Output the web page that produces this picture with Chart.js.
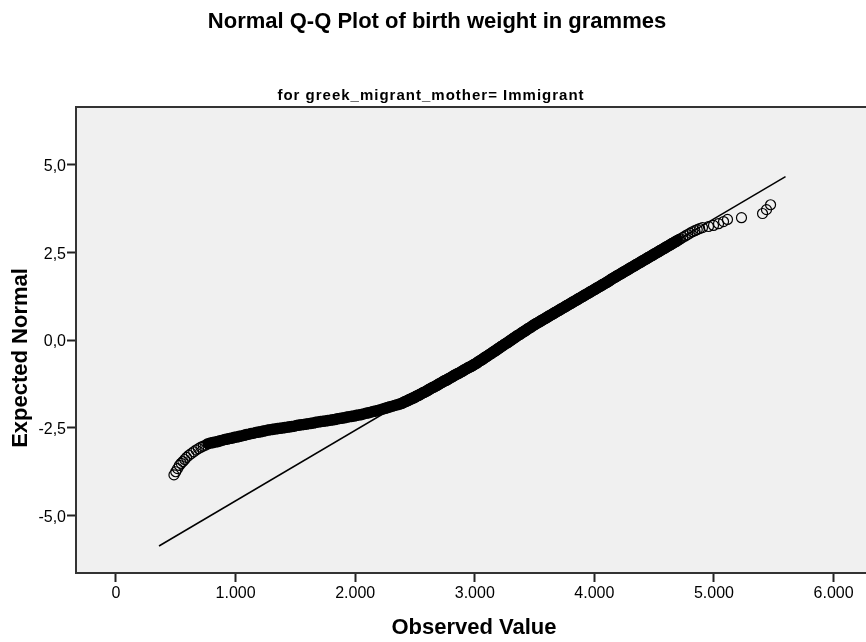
<!DOCTYPE html>
<html>
<head>
<meta charset="utf-8">
<script src="https://cdn.jsdelivr.net/npm/chart.js@4.4.1/dist/chart.umd.min.js"></script>
<style>
  html, body { margin: 0; padding: 0; background: #fff; overflow: hidden; }
  #wrap { width: 866px; height: 642px; }
</style>
</head>
<body>
<div id="wrap"><canvas id="qqPlot" width="866" height="642"></canvas></div>
<script>
// texts
const chartTitle = 'Normal Q-Q Plot of birth weight in grammes';
const chartSubtitle = 'for greek_migrant_mother= Immigrant';
const xTitle = 'Observed Value';
const yTitle = 'Expected Normal';

// axis ranges / ticks
const xMin = -334, xMax = 6271;
const yMin = -6.65, yMax = 6.65;
const xTickValues = [0, 1000, 2000, 3000, 4000, 5000, 6000];
const yTickValues = [-5, -2.5, 0, 2.5, 5];

// reference line (expected normal of the fitted normal)
const lineObserved = [360, 5598];
const lineExpected = [-5.88, 4.66];

// lower tail, separate circles
const obsTailLow = [485, 500, 515, 530, 545, 560, 575, 590, 610, 630, 650, 670, 690, 710, 730, 750];
const expTailLow = [-3.85, -3.76, -3.67, -3.58, -3.52, -3.47, -3.41, -3.35, -3.29, -3.24, -3.19, -3.14, -3.10, -3.06, -3.03, -3.00];

// lower band
const obsLow = [770, 790, 810, 830, 850, 870, 890, 910, 930, 950, 970, 990,
  1010, 1030, 1050, 1070, 1090, 1110, 1130, 1150, 1170, 1190,
  1210, 1230, 1250, 1270, 1290, 1310, 1330, 1350, 1370, 1390,
  1410, 1430, 1450, 1470, 1490, 1510, 1530, 1550, 1570, 1590,
  1610, 1630, 1650, 1670, 1690, 1710, 1730, 1750, 1770, 1790,
  1810, 1830, 1850, 1870, 1890, 1910, 1930, 1950, 1970, 1990,
  2010, 2030, 2050, 2070, 2090, 2110, 2130, 2150, 2170, 2190,
  2210, 2230, 2250, 2270, 2290, 2310, 2330, 2350, 2370, 2390];
const expLow = [-2.96, -2.94, -2.93, -2.91, -2.90, -2.88, -2.86, -2.84, -2.83, -2.81, -2.80, -2.78,
  -2.77, -2.75, -2.74, -2.72, -2.70, -2.69, -2.67, -2.66, -2.64, -2.63,
  -2.62, -2.60, -2.59, -2.57, -2.56, -2.55, -2.54, -2.53, -2.52, -2.51,
  -2.50, -2.49, -2.48, -2.47, -2.46, -2.44, -2.43, -2.42, -2.41, -2.40,
  -2.39, -2.38, -2.37, -2.35, -2.34, -2.33, -2.32, -2.31, -2.30, -2.29,
  -2.28, -2.27, -2.25, -2.24, -2.23, -2.22, -2.20, -2.19, -2.18, -2.17,
  -2.15, -2.14, -2.13, -2.11, -2.09, -2.08, -2.06, -2.04, -2.03, -2.01,
  -1.99, -1.97, -1.95, -1.93, -1.91, -1.89, -1.87, -1.85, -1.83, -1.81];

// middle band (dense)
const obsMid = [
  2400, 2410, 2420, 2430, 2440, 2450, 2460, 2470, 2480, 2490,
  2500, 2510, 2520, 2530, 2540, 2550, 2560, 2570, 2580, 2590,
  2600, 2610, 2620, 2630, 2640, 2650, 2660, 2670, 2680, 2690,
  2700, 2710, 2720, 2730, 2740, 2750, 2760, 2770, 2780, 2790,
  2800, 2810, 2820, 2830, 2840, 2850, 2860, 2870, 2880, 2890,
  2900, 2910, 2920, 2930, 2940, 2950, 2960, 2970, 2980, 2990,
  3000, 3010, 3020, 3030, 3040, 3050, 3060, 3070, 3080, 3090,
  3100, 3110, 3120, 3130, 3140, 3150, 3160, 3170, 3180, 3190,
  3200, 3210, 3220, 3230, 3240, 3250, 3260, 3270, 3280, 3290,
  3300, 3310, 3320, 3330, 3340, 3350, 3360, 3370, 3380, 3390,
  3400, 3410, 3420, 3430, 3440, 3450, 3460, 3470, 3480, 3490,
  3500, 3510, 3520, 3530, 3540, 3550, 3560, 3570, 3580, 3590,
  3600, 3610, 3620, 3630, 3640, 3650, 3660, 3670, 3680, 3690,
  3700, 3710, 3720, 3730, 3740, 3750, 3760, 3770, 3780, 3790,
  3800, 3810, 3820, 3830, 3840, 3850, 3860, 3870, 3880, 3890,
  3900, 3910, 3920, 3930, 3940, 3950, 3960, 3970, 3980, 3990,
  4000, 4010, 4020, 4030, 4040, 4050, 4060, 4070, 4080, 4090,
  4100, 4110, 4120, 4130, 4140, 4150, 4160, 4170, 4180, 4190,
  4200, 4210, 4220, 4230, 4240, 4250, 4260, 4270, 4280, 4290,
  4300, 4310, 4320, 4330, 4340, 4350, 4360, 4370, 4380, 4390,
  4400, 4410, 4420, 4430, 4440, 4450, 4460, 4470, 4480, 4490,
  4500, 4510, 4520, 4530, 4540, 4550, 4560, 4570, 4580, 4590,
  4600, 4610, 4620, 4630, 4640, 4650, 4660, 4670, 4680, 4690];
const expMid = [
  -1.79, -1.77, -1.76, -1.74, -1.73, -1.71, -1.69, -1.68, -1.66, -1.65,
  -1.63, -1.61, -1.59, -1.58, -1.56, -1.54, -1.52, -1.50, -1.49, -1.47,
  -1.45, -1.43, -1.41, -1.39, -1.37, -1.35, -1.34, -1.32, -1.30, -1.28,
  -1.26, -1.24, -1.22, -1.20, -1.18, -1.16, -1.15, -1.13, -1.11, -1.09,
  -1.07, -1.05, -1.03, -1.01, -0.99, -0.97, -0.96, -0.94, -0.92, -0.90,
  -0.88, -0.86, -0.84, -0.82, -0.80, -0.78, -0.77, -0.75, -0.73, -0.71,
  -0.69, -0.67, -0.65, -0.62, -0.60, -0.58, -0.56, -0.54, -0.51, -0.49,
  -0.47, -0.45, -0.42, -0.40, -0.38, -0.35, -0.33, -0.31, -0.29, -0.26,
  -0.24, -0.22, -0.19, -0.17, -0.15, -0.12, -0.10, -0.08, -0.06, -0.03,
  -0.01, 0.01, 0.04, 0.06, 0.08, 0.11, 0.13, 0.15, 0.17, 0.20,
  0.22, 0.24, 0.26, 0.28, 0.31, 0.33, 0.35, 0.37, 0.40, 0.42,
  0.44, 0.46, 0.48, 0.50, 0.52, 0.54, 0.56, 0.58, 0.60, 0.62,
  0.64, 0.66, 0.68, 0.70, 0.72, 0.74, 0.76, 0.78, 0.80, 0.82,
  0.84, 0.86, 0.88, 0.90, 0.92, 0.94, 0.96, 0.98, 1.00, 1.02,
  1.04, 1.06, 1.08, 1.10, 1.12, 1.14, 1.16, 1.18, 1.20, 1.22,
  1.24, 1.26, 1.28, 1.30, 1.32, 1.34, 1.36, 1.38, 1.40, 1.42,
  1.44, 1.46, 1.48, 1.50, 1.52, 1.54, 1.56, 1.58, 1.60, 1.62,
  1.64, 1.66, 1.68, 1.70, 1.73, 1.75, 1.77, 1.79, 1.81, 1.83,
  1.85, 1.87, 1.89, 1.91, 1.93, 1.95, 1.97, 1.99, 2.01, 2.03,
  2.05, 2.07, 2.09, 2.11, 2.13, 2.15, 2.17, 2.19, 2.21, 2.23,
  2.25, 2.27, 2.29, 2.31, 2.33, 2.35, 2.37, 2.39, 2.41, 2.43,
  2.45, 2.47, 2.49, 2.51, 2.53, 2.55, 2.57, 2.59, 2.61, 2.63,
  2.65, 2.67, 2.69, 2.71, 2.73, 2.75, 2.77, 2.79, 2.81, 2.83];

// upper band end and upper tail (separate circles)
const obsHigh = [4700, 4710, 4720, 4740, 4760, 4780, 4800, 4820, 4840, 4860, 4880,
  4904, 4954, 4996, 5038, 5080, 5113, 5230, 5406, 5439, 5473];
const expHigh = [2.85, 2.87, 2.89, 2.93, 2.97, 3.01, 3.05, 3.09, 3.12, 3.15, 3.18,
  3.21, 3.24, 3.27, 3.32, 3.38, 3.44, 3.49, 3.61, 3.72, 3.86];

const toPoints = (xs, ys) => xs.map((x, i) => ({ x: x, y: ys[i] }));

// dense part of the cloud (circles overlap into a solid band)
const bandData = toPoints([...obsLow, ...obsMid], [...expLow, ...expMid]);
// sparse ends where single circles show
const tailData = toPoints([...obsTailLow, ...obsHigh], [...expTailLow, ...expHigh]);
const lineData = toPoints(lineObserved, lineExpected);

const FONT = '"Liberation Sans", Arial, Helvetica, sans-serif';

// grey plot area, frame and the SPSS style titles
const plotFrame = {
    id: 'plotFrame',
    beforeDraw(chart) {
        const { ctx, chartArea: a } = chart;
        ctx.save();
        ctx.fillStyle = '#f0f0f0';
        ctx.fillRect(a.left, a.top, a.right - a.left, a.bottom - a.top);
        ctx.restore();
    },
    afterDraw(chart) {
        const { ctx, chartArea: a } = chart;
        ctx.save();
        // top edge of the frame (left / bottom come from the axes)
        ctx.strokeStyle = '#333';
        ctx.lineWidth = 2;
        ctx.beginPath();
        ctx.moveTo(a.left - 1, a.top);
        ctx.lineTo(a.right, a.top);
        ctx.stroke();

        ctx.fillStyle = '#000';
        ctx.textAlign = 'center';
        ctx.textBaseline = 'alphabetic';
        ctx.font = 'bold 22px ' + FONT;
        ctx.fillText(chartTitle, 437, 28);

        ctx.font = 'bold 15px ' + FONT;
        if ('letterSpacing' in ctx) ctx.letterSpacing = '1px';
        ctx.fillText(chartSubtitle, 431, 100);
        if ('letterSpacing' in ctx) ctx.letterSpacing = '0px';

        ctx.font = 'bold 22px ' + FONT;
        ctx.fillText(xTitle, 474, 634);

        ctx.translate(27, 358);
        ctx.rotate(-Math.PI / 2);
        ctx.fillText(yTitle, 0, 0);
        ctx.restore();
    }
};

new Chart(document.getElementById('qqPlot'), {
    type: 'scatter',
    data: {
        datasets: [
            {
                type: 'line',
                data: lineData,
                borderColor: '#000',
                borderWidth: 1.5,
                pointRadius: 0,
                fill: false,
                order: 0
            },
            {
                data: bandData,
                pointStyle: 'circle',
                pointRadius: 3.8,
                pointBorderWidth: 4,
                pointBorderColor: '#000',
                pointBackgroundColor: 'rgba(0,0,0,0)',
                order: 1
            },
            {
                data: tailData,
                pointStyle: 'circle',
                pointRadius: 5,
                pointBorderWidth: 1.2,
                pointBorderColor: '#000',
                pointBackgroundColor: 'rgba(0,0,0,0)',
                order: 2
            }
        ]
    },
    options: {
        responsive: false,
        animation: false,
        devicePixelRatio: 1,
        layout: {
            autoPadding: false,
            padding: { top: 107, right: 0, bottom: 0, left: 0 }
        },
        plugins: {
            legend: { display: false },
            tooltip: { enabled: false }
        },
        scales: {
            x: {
                type: 'linear',
                min: xMin,
                max: xMax,
                afterFit: (scale) => { scale.height = 69; },
                afterBuildTicks: (scale) => { scale.ticks = xTickValues.map(v => ({ value: v })); },
                grid: { drawOnChartArea: false, drawTicks: true, tickLength: 9, tickColor: '#222', tickWidth: 2 },
                border: { display: true, color: '#333', width: 2 },
                ticks: {
                    padding: 2,
                    color: '#000',
                    font: { family: FONT, size: 16 },
                    maxRotation: 0,
                    autoSkip: false,
                    callback: (v) => v === 0 ? '0' : (v / 1000).toFixed(3)
                }
            },
            y: {
                type: 'linear',
                min: yMin,
                max: yMax,
                afterFit: (scale) => { scale.width = 76; },
                afterBuildTicks: (scale) => { scale.ticks = yTickValues.map(v => ({ value: v })); },
                grid: { drawOnChartArea: false, drawTicks: true, tickLength: 9, tickColor: '#222', tickWidth: 2 },
                border: { display: true, color: '#333', width: 2 },
                ticks: {
                    padding: 1,
                    labelOffset: 2,
                    color: '#000',
                    font: { family: FONT, size: 16 },
                    autoSkip: false,
                    callback: (v) => v.toFixed(1).replace('.', ',')
                }
            }
        }
    },
    plugins: [plotFrame]
});
</script>
</body>
</html>
